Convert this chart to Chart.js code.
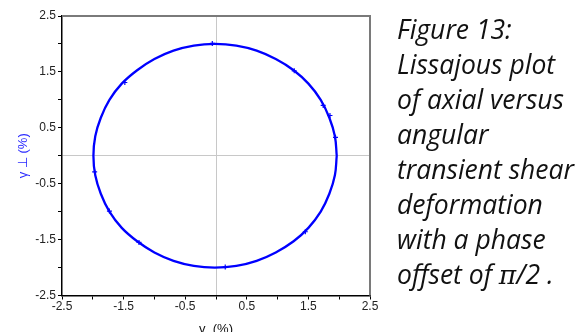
<!DOCTYPE html>
<html>
<head>
<meta charset="utf-8">
<script src="https://cdn.jsdelivr.net/npm/chart.js@4.4.1/dist/chart.umd.min.js"></script>
<style>
  html, body { margin: 0; padding: 0; background: #fff; }
  #wrap { position: relative; width: 586px; height: 332px; overflow: hidden; }
  #chart { position: absolute; left: 0; top: 0; }
  #caption {
    position: absolute; left: 397px; top: 12px;
    font-family: "Open Sans", Lato, sans-serif; font-style: italic;
    font-size: 26.5px; line-height: 35px; color: #111; white-space: nowrap;
  }
  #caption .pi { font-family: "DejaVu Serif", serif; font-style: italic; }
</style>
</head>
<body>
<div id="wrap">
  <canvas id="chart" width="586" height="332"></canvas>
  <div id="caption">Figure 13:<br>Lissajous plot<br>of axial versus<br>angular<br>transient shear<br>deformation<br>with a phase<br>offset of <span class="pi">π</span>/2 .</div>
</div>
<script>
// Axial strain (x) and angular strain (y), in percent, around one cycle
const axialStrain = [1.96, 1.93, 1.84, 1.70, 1.50, 1.26, 0.97, 0.66, 0.33, -0.02,
  -0.36, -0.69, -1.00, -1.28, -1.53, -1.73, -1.87, -1.96, -1.99, -1.96,
  -1.87, -1.73, -1.53, -1.28, -1.00, -0.69, -0.36, -0.02, 0.33, 0.66,
  0.97, 1.26, 1.50, 1.70, 1.84, 1.93, 1.96];
const angularStrain = [0.00, 0.35, 0.68, 1.00, 1.29, 1.53, 1.73, 1.88, 1.97, 2.00,
  1.97, 1.88, 1.73, 1.53, 1.29, 1.00, 0.68, 0.35, 0.00, -0.35,
  -0.68, -1.00, -1.29, -1.53, -1.73, -1.88, -1.97, -2.00, -1.97, -1.88,
  -1.73, -1.53, -1.29, -1.00, -0.68, -0.35, 0.00];

// Sampled markers along the trace
const markerX = [-1.48, -0.06, 1.27, 1.74, 1.85, 1.94, 0.15, 1.45, -1.97, -1.73, -1.25];
const markerY = [1.31, 2.01, 1.52, 0.90, 0.72, 0.33, -1.99, -1.36, -0.29, -0.99, -1.55];

// Axis range and tick spacing (labels every other tick)
const axisMin = -2.5;
const axisMax = 2.5;
const tickStep = 0.5;

const trace = axialStrain.map((x, i) => ({ x: x, y: angularStrain[i] }));
const markers = markerX.map((x, i) => ({ x: x, y: markerY[i] }));

const oddHalfLabel = v => (Math.round(Math.abs(v) * 2) % 2 === 1) ? v.toFixed(1) : '';
const zeroGrid = ctx => (ctx.tick && Math.abs(ctx.tick.value) < 1e-9) ? '#c8c8c8' : 'rgba(0,0,0,0)';
const tickFont = { family: '"Liberation Sans", Arial, sans-serif', size: 12 };

const frame = {
  id: 'frame',
  afterDraw(chart) {
    const { ctx, chartArea: a } = chart;
    ctx.save();
    ctx.strokeStyle = '#7a7a7a';
    ctx.lineWidth = 2;
    ctx.beginPath();
    ctx.moveTo(a.left, a.top);
    ctx.lineTo(a.right, a.top);
    ctx.lineTo(a.right, a.bottom);
    ctx.stroke();
    ctx.restore();
  }
};

new Chart(document.getElementById('chart'), {
  type: 'scatter',
  data: {
    datasets: [
      {
        data: trace,
        showLine: true,
        borderColor: '#0000ff',
        borderWidth: 2.3,
        pointRadius: 0,
        tension: 0.4
      },
      {
        data: markers,
        showLine: false,
        pointStyle: 'cross',
        pointRadius: 2.5,
        borderColor: '#0000ff',
        borderWidth: 1.2
      }
    ]
  },
  options: {
    responsive: false,
    animation: false,
    layout: { padding: { left: 0, right: 216, top: 16, bottom: 0 } },
    plugins: { legend: { display: false }, tooltip: { enabled: false } },
    scales: {
      x: {
        min: axisMin, max: axisMax,
        afterFit: s => { s.height = 36.5; },
        ticks: {
          stepSize: tickStep, autoSkip: false, maxRotation: 0,
          callback: v => oddHalfLabel(v),
          color: '#222', padding: 0, font: tickFont
        },
        grid: { color: zeroGrid, tickColor: '#000', tickLength: 4, lineWidth: 1 },
        border: { color: '#000', width: 1.5 },
        title: {
          display: true, text: 'γ  (%)', color: '#111',
          font: { family: '"Liberation Sans", Arial, sans-serif', size: 13, lineHeight: 1 },
          padding: { top: 0, bottom: -4 }
        }
      },
      y: {
        min: axisMin, max: axisMax,
        afterFit: s => { s.width = 62; },
        ticks: {
          stepSize: tickStep, autoSkip: false,
          callback: v => oddHalfLabel(v),
          color: '#222', padding: 2, font: tickFont
        },
        grid: { color: zeroGrid, tickColor: '#000', tickLength: 4, lineWidth: 1 },
        border: { color: '#000', width: 1.5 },
        title: {
          display: true, text: 'γ ⊥ (%)', color: '#2a2aff',
          font: { family: '"Liberation Sans", Arial, sans-serif', size: 13, lineHeight: 1 },
          padding: { top: 17, bottom: 0 }
        }
      }
    }
  },
  plugins: [frame]
});
</script>
</body>
</html>
